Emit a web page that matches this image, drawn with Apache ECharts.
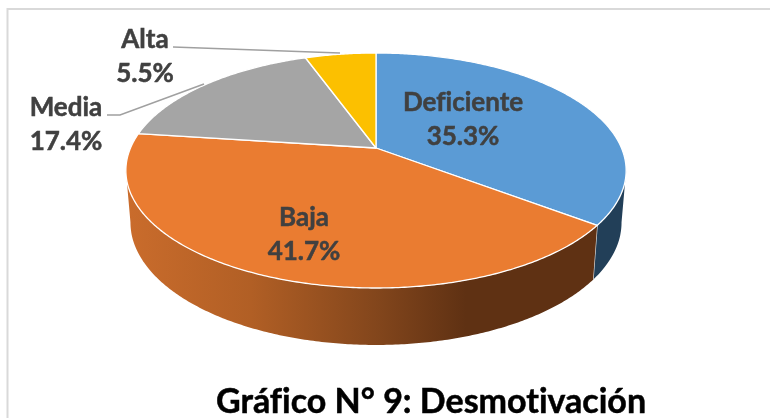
<!DOCTYPE html>
<html>
<head>
<meta charset="utf-8">
<style>html,body{margin:0;padding:0;background:#fff}#c{width:770px;height:418px}</style>
<script src="https://cdn.jsdelivr.net/npm/echarts@6/dist/echarts.min.js"></script>
</head>
<body>
<div id="c"></div>
<script>
const categories = ['Deficiente', 'Baja', 'Media', 'Alta'];
const percentages = [35.3, 41.7, 17.4, 5.5];
const titleText = 'Gráfico N° 9: Desmotivación';

const topColors = ['#5b9bd5', '#ea7c31', '#a5a5a5', '#fcc000'];
const labelAnchors = [[463, 119.5], [304, 234.5], [66, 125], [145, 57]];
const leaderLines = [null, null, [[107, 115], [120, 115], [204, 84]], [[173, 47], [340, 53]]];

// keep text unligatured, like the reference's typeface
const origGetContext = HTMLCanvasElement.prototype.getContext;
HTMLCanvasElement.prototype.getContext = function () {
  const ctx = origGetContext.apply(this, arguments);
  if (ctx && 'textRendering' in ctx) ctx.textRendering = 'optimizeSpeed';
  return ctx;
};

const total = percentages.reduce((a, b) => a + b, 0);
const K = -0.1915;
const topFace = { cx: 376, cy: 148, a: 113.2, b: 245.5 };
const baseFace = { cx: 376, cy: 199, a: 118, b: 241 };
const DEG = Math.PI / 180;
const visibleSide = [101 * DEG, 259 * DEG];

function project(face, theta) {
  const x = Math.sin(theta), y = -Math.cos(theta), d = 1 + K * y;
  return [face.cx + face.b * x / d, face.cy + face.a * y / d];
}
function arc(face, t0, t1) {
  const n = Math.max(2, Math.ceil((t1 - t0) / 0.01));
  const pts = [];
  for (let i = 0; i <= n; i++) pts.push(project(face, t0 + (t1 - t0) * i / n));
  return pts;
}
function angles(i) {
  let s = 0;
  for (let j = 0; j < i; j++) s += percentages[j];
  return [s / total * 2 * Math.PI, (s + percentages[i]) / total * 2 * Math.PI];
}

const orangeSide = new echarts.graphic.LinearGradient(126, 0, 626, 0, [
  { offset: 0, color: '#ca6c2c' },
  { offset: 0.25, color: '#b15f25' },
  { offset: 0.5, color: '#83461c' },
  { offset: 0.68, color: '#5f3113' },
  { offset: 1, color: '#5f3113' }
], true);
const sideFills = ['#223f58', orangeSide, '#636363', '#997300'];

function renderSide(params, api) {
  const i = params.dataIndex;
  api.value(0);
  const [a0, a1] = angles(i);
  const t0 = Math.max(a0, visibleSide[0]), t1 = Math.min(a1, visibleSide[1]);
  if (t1 <= t0) return { type: 'group', children: [] };
  const top = arc(topFace, t0, t1);
  const base = arc(baseFace, t0, t1).reverse();
  const children = [
    { type: 'polygon', shape: { points: top.concat(base) }, style: { fill: sideFills[i] } }
  ];
  if (a1 < visibleSide[1]) {
    children.push({ type: 'polyline', shape: { points: [project(topFace, a1), project(baseFace, a1)] },
      style: { fill: null, stroke: '#e4e4e4', lineWidth: 1.2 } });
  }
  return { type: 'group', children };
}
function renderTop(params, api) {
  const i = params.dataIndex;
  const [t0, t1] = angles(i);
  const pts = [[topFace.cx, topFace.cy]].concat(arc(topFace, t0, t1));
  const children = [
    { type: 'polygon', shape: { points: pts },
      style: { fill: topColors[i], stroke: '#ffffff', lineWidth: 1.3, lineJoin: 'round' } }
  ];
  if (leaderLines[i]) {
    children.push({ type: 'polyline', shape: { points: leaderLines[i] },
      style: { fill: null, stroke: '#a0a0a0', lineWidth: 1.6 } });
  }
  children.push({
    type: 'text',
    x: labelAnchors[i][0], y: labelAnchors[i][1],
    style: {
      text: categories[i] + '\n' + api.value(0).toFixed(1) + '%',
      font: 'bold 26px Lato',
      fill: '#404040', stroke: '#404040', lineWidth: 0.5,
      align: 'center', verticalAlign: 'middle', lineHeight: 34
    }
  });
  return { type: 'group', children };
}

const chart = echarts.init(document.getElementById('c'), null, { renderer: 'canvas' });
chart.setOption({
  animation: false,
  backgroundColor: '#ffffff',
  title: {
    text: titleText, left: 216, top: 385,
    textStyle: { fontFamily: 'Lato', fontWeight: 'bold', fontSize: 34, color: '#000000',
      textBorderColor: '#000000', textBorderWidth: 0.5 },
    padding: 0
  },
  graphic: [
    { type: 'polyline', silent: true, shape: { points: [[7.5, 418], [7.5, 9], [770, 9]] },
      style: { fill: null, stroke: '#d9d9d9', lineWidth: 2 } }
  ],
  series: [
    { type: 'custom', coordinateSystem: 'none', silent: true, renderItem: renderSide,
      data: percentages.map(v => [v]) },
    { type: 'custom', coordinateSystem: 'none', silent: true, renderItem: renderTop,
      data: percentages.map(v => [v]) }
  ]
});
</script>
</body>
</html>
